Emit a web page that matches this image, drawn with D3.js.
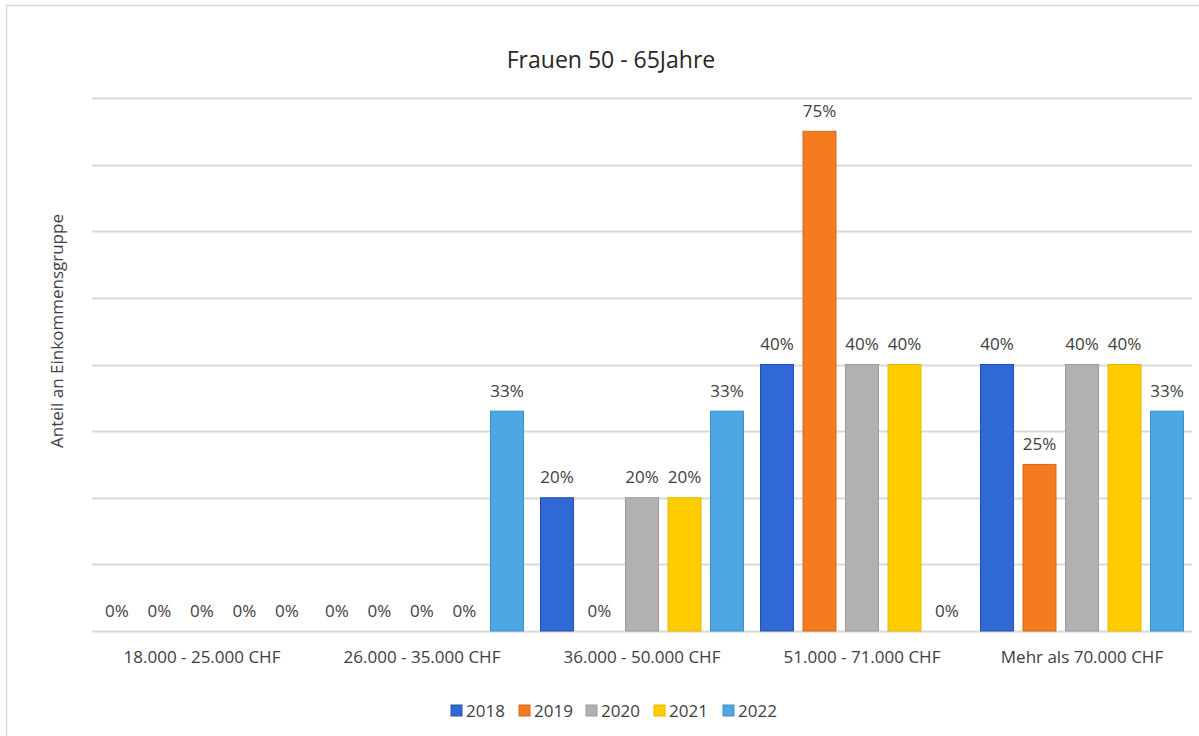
<!DOCTYPE html>
<html>
<head>
<meta charset="utf-8">
<script src="https://cdn.jsdelivr.net/npm/d3@7"></script>
<style>
  body { margin: 0; background: #fff; }
  svg { font-family: "Open Sans", "Noto Sans", sans-serif; }
</style>
</head>
<body>
<div class="canvas"></div>
<script>
// data
const categories = ["18.000 - 25.000 CHF", "26.000 - 35.000 CHF", "36.000 - 50.000 CHF", "51.000 - 71.000 CHF", "Mehr als 70.000 CHF"];
const years = ["2018", "2019", "2020", "2021", "2022"];
const values2018 = [0, 0, 20, 40, 40];
const values2019 = [0, 0, 0, 75, 25];
const values2020 = [0, 0, 20, 40, 40];
const values2021 = [0, 0, 20, 40, 40];
const values2022 = [0, 33, 33, 0, 33];
const seriesValues = [values2018, values2019, values2020, values2021, values2022];
const gridTicks = [0, 10, 20, 30, 40, 50, 60, 70, 80];

const fills = ["#3068D5", "#F47B20", "#B1B1B1", "#FFCC00", "#4EA6E2"];
const strokes = ["#2450B0", "#D9661A", "#9C9C9C", "#E8BA00", "#3D8FCC"];

// margins and dimensions
const w = 1199;
const h = 736;
const margin = { top: 98, right: 7, bottom: 105, left: 92 };
const graphWidth = w - margin.left - margin.right;
const graphHeight = h - margin.top - margin.bottom;
const labelSize = 17;

const svg = d3.select(".canvas").append("svg").attr("width", w).attr("height", h);

// outer chart border
svg.append("rect")
  .attr("x", 6.5).attr("y", 5.5)
  .attr("width", w + 10).attr("height", h + 10)
  .attr("fill", "none").attr("stroke", "#D9D9D9").attr("stroke-width", 1.5);

const graph = svg.append("g").attr("transform", `translate(${margin.left}, ${margin.top})`);

const y = d3.scaleLinear().domain([0, 80]).range([graphHeight, 0]);
const x0 = d3.scaleBand().domain(categories).range([0, graphWidth]);
const x1 = d3.scaleBand().domain(years).range([8.5, x0.bandwidth() - 8.5]).paddingInner(0.224);

// gridlines
graph.selectAll("line.grid")
  .data(gridTicks)
  .enter()
  .append("line")
  .attr("class", "grid")
  .attr("x1", 0).attr("x2", graphWidth)
  .attr("y1", d => Math.round(y(d)) + 0.5)
  .attr("y2", d => Math.round(y(d)) + 0.5)
  .attr("stroke", "#D9D9D9")
  .attr("stroke-width", 2);

// flatten data for bars
const rows = [];
categories.forEach((c, ci) => {
  years.forEach((yr, si) => rows.push({ cat: c, year: yr, si: si, value: seriesValues[si][ci] }));
});

graph.selectAll("rect.bar")
  .data(rows.filter(d => d.value > 0))
  .enter()
  .append("rect")
  .attr("class", "bar")
  .attr("x", d => x0(d.cat) + x1(d.year))
  .attr("y", d => y(d.value))
  .attr("width", x1.bandwidth())
  .attr("height", d => y(0) - y(d.value))
  .attr("fill", d => fills[d.si])
  .attr("stroke", d => strokes[d.si])
  .attr("stroke-width", 1);

// value labels
graph.selectAll("text.val")
  .data(rows)
  .enter()
  .append("text")
  .attr("class", "val")
  .attr("x", d => x0(d.cat) + x1(d.year) + x1.bandwidth() / 2)
  .attr("y", d => y(d.value) - 14.5)
  .attr("text-anchor", "middle")
  .attr("font-size", labelSize)
  .attr("fill", "#404040")
  .text(d => d.value + "%");

// category labels
graph.selectAll("text.cat")
  .data(categories)
  .enter()
  .append("text")
  .attr("class", "cat")
  .attr("x", d => x0(d) + x0.bandwidth() / 2)
  .attr("y", graphHeight + 32)
  .attr("text-anchor", "middle")
  .attr("font-size", labelSize)
  .attr("fill", "#404040")
  .text(d => d);

// title
svg.append("text")
  .attr("x", 611).attr("y", 68)
  .attr("text-anchor", "middle")
  .attr("font-size", 23)
  .attr("fill", "#262626")
  .text("Frauen 50 - 65Jahre");

// y axis title
svg.append("text")
  .attr("transform", "translate(63, 331) rotate(-90)")
  .attr("text-anchor", "middle")
  .attr("font-size", labelSize)
  .attr("fill", "#404040")
  .text("Anteil an Einkommensgruppe");

// legend
const legendX = [451, 519, 586, 654, 723];
const legend = svg.append("g");
years.forEach((yr, i) => {
  legend.append("rect")
    .attr("x", legendX[i]).attr("y", 705)
    .attr("width", 11).attr("height", 11)
    .attr("fill", fills[i]).attr("stroke", strokes[i]);
  legend.append("text")
    .attr("x", legendX[i] + 15).attr("y", 717)
    .attr("font-size", labelSize)
    .attr("fill", "#404040")
    .text(yr);
});
</script>
</body>
</html>
